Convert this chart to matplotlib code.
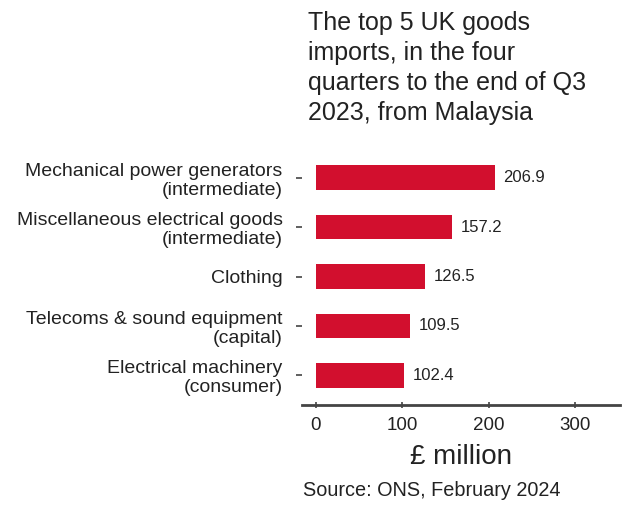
import matplotlib
matplotlib.use('Agg')
import matplotlib.pyplot as plt

plt.rcParams['font.family'] = ['Liberation Sans', 'DejaVu Sans']

categories = [
    'Mechanical power generators\n(intermediate)',
    'Miscellaneous electrical goods\n(intermediate)',
    'Clothing',
    'Telecoms & sound equipment\n(capital)',
    'Electrical machinery\n(consumer)',
]
values = [206.9, 157.2, 126.5, 109.5, 102.4]
xticks = [0, 100, 200, 300]

BAR_COLOR = '#d20f2e'
TEXT_COLOR = '#222222'

fig = plt.figure(figsize=(6.4, 5.05), dpi=100)
ax = fig.add_axes([302 / 640, 1 - 405 / 505, 318 / 640, (405 - 148) / 505])

ypos = list(range(len(categories)))[::-1]
ax.barh(ypos, values, height=0.5, color=BAR_COLOR)
for y, v in zip(ypos, values):
    ax.text(v + 10, y, f'{v:.1f}', va='center', ha='left', fontsize=12, color=TEXT_COLOR)

ax.set_xlim(-16, 352)
ax.set_ylim(-0.6, 4.6)
ax.set_yticks(ypos)
ax.set_yticklabels(categories, fontsize=14, color=TEXT_COLOR, linespacing=1.15)
ax.set_xticks(xticks)
ax.set_xticklabels([str(t) for t in xticks], fontsize=13.5, color=TEXT_COLOR)

for s in ['left', 'right', 'top']:
    ax.spines[s].set_visible(False)
ax.spines['bottom'].set_color('#444444')
ax.spines['bottom'].set_linewidth(2)
ax.tick_params(axis='y', length=4, width=1.2, color='#444444', pad=10)
ax.tick_params(axis='x', length=5, width=1.2, color='#444444', pad=6, direction='inout')

ax.set_xlabel('£ million', fontsize=20, color=TEXT_COLOR, labelpad=7)

fig.text(308 / 640, 1 - 11 / 505,
         'The top 5 UK goods\nimports, in the four\nquarters to the end of Q3\n2023, from Malaysia',
         ha='left', va='top', fontsize=18, color=TEXT_COLOR, linespacing=1.32)
fig.text(303 / 640, 1 - 491 / 505, 'Source: ONS, February 2024',
         ha='left', va='center', fontsize=14.3, color=TEXT_COLOR)

fig.savefig('out.png', dpi=100, facecolor='white')
